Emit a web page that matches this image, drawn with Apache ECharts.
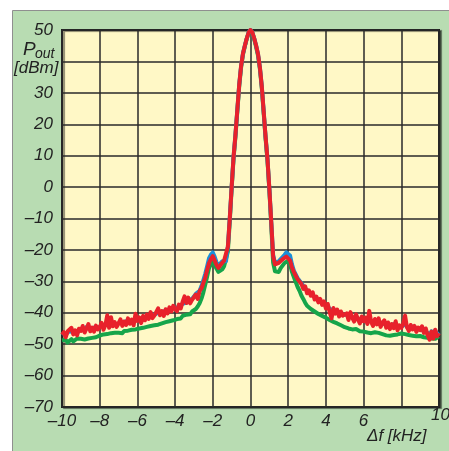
<!DOCTYPE html>
<html><head><meta charset="utf-8">
<script src="https://cdn.jsdelivr.net/npm/echarts@6/dist/echarts.min.js"></script>
<style>html,body{margin:0;padding:0;background:#fff}#c{width:449px;height:451px}</style>
</head><body><div id="c"></div>
<script>
// frequency offset grid (kHz): -10 ... 10, step 0.1
const xStart = -10, xStep = 0.1, nPts = 201;
const xTicks = [-10, -8, -6, -4, -2, 0, 2, 4, 6, 8, 10];
const yTicks = [-70, -60, -50, -40, -30, -20, -10, 0, 10, 20, 30, 40, 50];

const redVals = [
-47.0,-46.2,-47.8,-45.9,-46.5,-44.8,-46.9,-45.6,-47.2,-45.1,
-45.8,-44.2,-46.3,-45.0,-43.6,-45.9,-44.7,-46.0,-44.1,-45.3,
-44.6,-43.2,-45.4,-44.0,-40.8,-44.8,-41.4,-44.3,-43.0,-44.5,
-43.4,-42.1,-44.2,-42.8,-43.9,-41.8,-43.5,-42.2,-44.0,-40.3,
-42.6,-41.5,-43.3,-41.0,-42.4,-40.6,-42.0,-39.8,-41.7,-40.9,
-41.2,-38.6,-40.8,-39.5,-41.0,-38.9,-40.2,-38.3,-39.6,-37.8,
-38.8,-39.5,-37.4,-38.6,-36.5,-34.8,-36.9,-35.2,-37.0,-35.9,
-35.4,-34.2,-35.6,-33.1,-32.2,-30.5,-28.8,-26.4,-24.2,-22.9,
-22.0,-23.4,-24.8,-25.7,-25.2,-24.1,-23.4,-24.0,-19.0,-10.0,
0,9.5,16.5,24.5,32.5,38.5,42.5,45.0,47.3,49.2,
50,
49.2,47.3,45.0,42.3,38.0,32.0,24.0,16.0,9.0,-0.5,
-11.0,-22.0,-24.6,-25.2,-24.1,-23.6,-23.0,-22.7,-22.1,-21.8,
-23.4,-25.6,-27.0,-28.2,-29.3,-30.1,-30.8,-32.4,-31.6,-33.8,
-32.9,-34.6,-33.5,-35.8,-34.9,-36.7,-35.6,-37.5,-36.4,-38.6,
-37.2,-39.8,-41.8,-38.5,-40.3,-39.0,-41.2,-39.6,-40.9,-41.5,
-40.2,-42.3,-39.8,-41.6,-42.8,-40.5,-42.1,-43.4,-41.2,-42.7,
-41.5,-43.6,-39.4,-42.9,-44.2,-42.0,-43.7,-41.8,-44.5,-43.2,
-42.4,-44.8,-43.1,-45.2,-43.6,-44.9,-42.7,-45.6,-44.0,-44.8,
-43.5,-40.9,-44.6,-45.8,-43.9,-45.3,-44.2,-46.1,-44.7,-45.5,
-44.3,-46.4,-45.0,-47.2,-48.6,-46.0,-48.2,-45.4,-47.5,-46.5
];

const blueVals = [
-46.5,-47.0,-46.8,-46.2,-45.8,-45.5,-46.3,-46.0,-46.5,-45.6,
-45.5,-45.0,-45.8,-44.6,-44.9,-45.3,-45.1,-44.7,-44.8,-44.9,
-44.5,-44.0,-44.6,-43.8,-43.5,-43.9,-43.2,-43.9,-43.6,-43.8,
-43.5,-43.0,-43.4,-42.9,-43.1,-42.5,-42.9,-42.6,-42.8,-42.0,
-42.5,-41.9,-42.6,-41.5,-41.9,-41.2,-41.6,-40.6,-41.0,-40.6,
-40.8,-40.0,-40.4,-39.8,-40.2,-39.3,-39.6,-38.9,-39.1,-38.4,
-38.6,-38.5,-37.8,-37.9,-37.2,-37.4,-36.8,-36.0,-36.3,-35.6,
-35.0,-34.0,-34.6,-33.0,-31.5,-29.6,-27.6,-25.2,-22.6,-21.5,
-20.8,-22.2,-24.0,-25.0,-24.8,-23.6,-23.0,-23.6,-18.8,-10.0,
0,9.5,16.5,24.5,32.5,38.5,42.5,45.0,47.3,49.2,
50,
49.2,47.3,45.0,42.3,38.0,32.0,24.0,16.0,9.0,-0.5,
-11.0,-21.5,-24.2,-24.8,-23.6,-23.0,-22.3,-21.6,-20.8,-20.6,
-21.8,-24.6,-26.6,-27.8,-29.0,-29.8,-30.6,-31.4,-31.8,-33.0,
-33.0,-33.8,-34.0,-35.0,-35.2,-35.9,-36.0,-36.8,-36.9,-37.8,
-37.6,-38.6,-39.6,-39.0,-39.6,-39.5,-40.4,-40.0,-40.6,-40.9,
-40.6,-41.5,-40.8,-41.3,-42.0,-41.2,-41.7,-42.4,-41.8,-42.3,
-42.0,-42.9,-41.5,-42.6,-43.3,-42.5,-43.2,-42.6,-43.8,-43.1,
-42.9,-44.0,-43.4,-44.5,-43.8,-44.3,-43.5,-44.8,-44.2,-44.5,
-44.0,-43.6,-44.5,-45.2,-44.3,-44.9,-44.6,-45.4,-44.9,-45.2,
-44.8,-45.9,-45.3,-46.4,-47.2,-45.9,-47.0,-45.6,-46.8,-46.2
];

const greenVals = [
-48.8,-49.3,-48.6,-49.5,-49.0,-48.4,-49.1,-48.7,-48.2,-48.8,
-48.3,-47.8,-48.5,-47.9,-48.2,-47.6,-48.0,-47.4,-47.8,-47.5,
-47.3,-47.6,-46.9,-47.3,-46.8,-47.1,-46.5,-46.9,-46.4,-46.7,
-46.4,-46.0,-46.5,-45.8,-46.2,-45.7,-46.0,-45.4,-45.8,-45.3,
-45.6,-45.0,-45.4,-44.8,-45.0,-44.5,-44.8,-44.2,-44.6,-44.0,
-44.2,-43.8,-44.0,-43.4,-43.7,-43.0,-43.3,-42.7,-43.0,-42.4,
-42.5,-42.0,-41.6,-41.8,-41.0,-41.3,-40.6,-40.2,-40.5,-39.6,
-39.5,-38.8,-38.0,-37.0,-35.5,-33.5,-31.0,-28.5,-25.8,-24.5,
-23.8,-24.8,-26.0,-27.0,-27.2,-26.2,-25.2,-25.5,-20.5,-11.0,
-0.5,9.0,16.0,24.0,32.0,38.0,42.2,44.8,47.2,49.1,
49.8,
49.0,47.0,44.6,41.8,37.5,31.5,23.5,15.5,8.5,-1.0,
-12.0,-24.0,-26.8,-27.4,-27.0,-25.8,-25.0,-24.2,-23.6,-23.4,
-24.6,-27.0,-28.6,-30.2,-31.8,-33.0,-34.5,-35.6,-36.8,-37.8,
-38.2,-38.8,-39.0,-39.6,-39.8,-40.4,-40.6,-41.0,-41.2,-41.6,
-41.8,-42.3,-42.5,-42.9,-43.2,-43.4,-43.8,-44.0,-44.3,-44.6,
-44.5,-45.0,-44.8,-45.3,-45.6,-45.2,-45.7,-45.9,-45.6,-46.0,
-45.8,-46.3,-46.0,-46.5,-46.8,-46.2,-46.7,-46.4,-47.0,-46.8,
-46.6,-47.2,-46.7,-47.3,-46.8,-47.1,-46.5,-46.9,-46.4,-46.6,
-46.3,-46.8,-46.5,-47.1,-46.7,-47.3,-46.9,-47.5,-47.0,-47.4,
-47.2,-47.8,-47.4,-48.0,-47.6,-48.2,-47.7,-48.3,-47.8,-47.5
];

const xs = [];
for (let i = 0; i < nPts; i++) xs.push(Math.round((xStart + i * xStep) * 10) / 10);
const pairs = vals => xs.map((x, i) => [x, vals[i]]);

const FONT = '"Liberation Sans", Arial, sans-serif';
const dash = v => (v < 0 ? '\u2013' + Math.abs(v) : String(v));

const chart = echarts.init(document.getElementById('c'), null, {renderer: 'canvas'});
chart.setOption({
  animation: false,
  backgroundColor: '#ffffff',
  graphic: [
    {type: 'rect', z: -10, silent: true,
     shape: {x: 12.5, y: 10.5, width: 440, height: 445},
     style: {fill: '#b8dcb2', stroke: '#8f8f8f', lineWidth: 1}},
    {type: 'text', z: 10, x: 23, y: 40,
     style: {text: 'P', font: 'italic 19px ' + FONT, fill: '#222'}},
    {type: 'text', z: 10, x: 35, y: 47,
     style: {text: 'out', font: 'italic 14px ' + FONT, fill: '#222'}},
    {type: 'text', z: 10, x: 14, y: 60,
     style: {text: '[dBm]', font: 'italic 17px ' + FONT, fill: '#222'}},
    {type: 'text', z: 10, x: 367, y: 428,
     style: {text: '\u0394f [kHz]', font: 'italic 17px ' + FONT, fill: '#222'}},
    {type: 'text', z: 10, x: 431, y: 407,
     style: {text: '10', font: 'italic 17px ' + FONT, fill: '#222'}}
  ],
  grid: {
    left: 62, top: 30, right: 10, bottom: 44,
    show: true, backgroundColor: '#fff8c6',
    borderColor: '#1e1e1e', borderWidth: 2,
    shadowColor: 'rgba(0,0,0,0.45)', shadowOffsetX: 2, shadowOffsetY: 1, shadowBlur: 1,
    outerBoundsMode: 'none'
  },
  xAxis: {
    type: 'value', min: xTicks[0], max: xTicks[xTicks.length - 1], interval: 2,
    axisLine: {show: false}, axisTick: {show: false},
    splitLine: {show: true, lineStyle: {color: '#2a2a2a', width: 1.5}},
    axisLabel: {
      margin: 6, color: '#222', fontStyle: 'italic', fontSize: 17, fontFamily: FONT,
      formatter: v => (v === 8 || v === 10) ? '' : dash(v)
    }
  },
  yAxis: {
    type: 'value', min: yTicks[0], max: yTicks[yTicks.length - 1], interval: 10,
    axisLine: {show: false}, axisTick: {show: false},
    splitLine: {show: true, lineStyle: {color: '#2a2a2a', width: 1.5}},
    axisLabel: {
      margin: 9, color: '#222', fontStyle: 'italic', fontSize: 17, fontFamily: FONT,
      formatter: v => v === 40 ? '' : dash(v)
    }
  },
  series: [
    {type: 'line', name: 'green', data: pairs(greenVals), showSymbol: false,
     lineStyle: {color: '#16a54a', width: 4, join: 'round'}, z: 2},
    {type: 'line', name: 'blue', data: pairs(blueVals), showSymbol: false,
     lineStyle: {color: '#1b8fd8', width: 4, join: 'round'}, z: 3},
    {type: 'line', name: 'red', data: pairs(redVals), showSymbol: false,
     lineStyle: {color: '#e8212b', width: 4, join: 'round'}, z: 4}
  ]
});
</script></body></html>
